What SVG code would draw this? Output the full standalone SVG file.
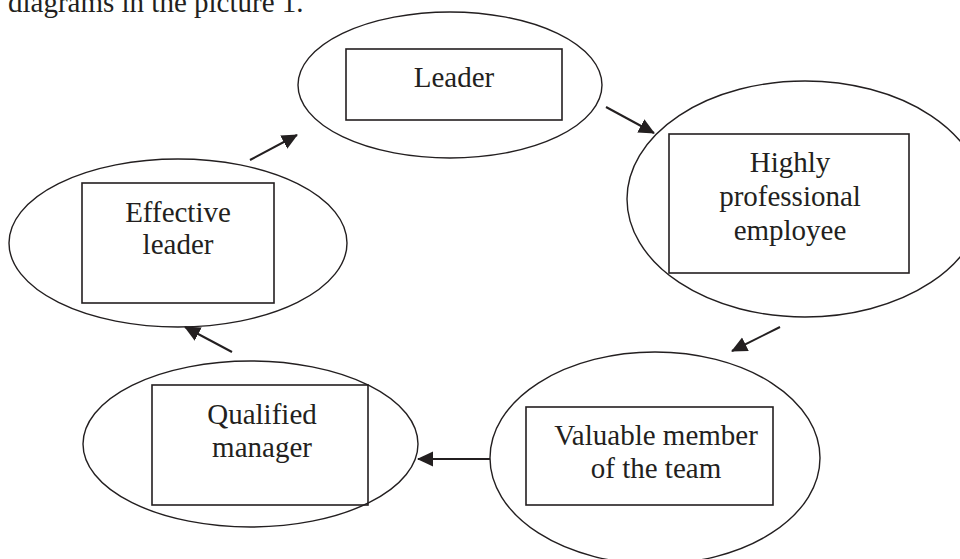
<svg xmlns="http://www.w3.org/2000/svg" width="960" height="559" viewBox="0 0 960 559">
<style>
.e{fill:none;stroke:#231f20;stroke-width:1.4}
.r{fill:none;stroke:#231f20;stroke-width:1.6}
.t{font-family:"Liberation Serif","Times New Roman",serif;font-size:29px;fill:#231f20;text-anchor:middle}
.c{stroke:#231f20;stroke-width:2;fill:none;marker-end:url(#ah)}
</style>
<defs>
<marker id="ah" markerUnits="userSpaceOnUse" markerWidth="16" markerHeight="16" viewBox="0 0 16 16" refX="15" refY="8" orient="auto">
<path d="M0,0.5 L16,8 L0,15.5 z" fill="#231f20"/>
</marker>
</defs>
<rect width="960" height="559" fill="#fff"/>
<text x="8" y="12" font-family="Liberation Serif,serif" font-size="29" fill="#231f20">diagrams in the picture 1.</text>
<g id="leader">
<ellipse class="e" cx="450" cy="85" rx="152" ry="73"/>
<rect class="r" x="346" y="49" width="216" height="71"/>
<text class="t" x="454" y="87">Leader</text>
</g>
<g id="highly-professional-employee">
<ellipse class="e" cx="805" cy="199" rx="178" ry="118"/>
<rect class="r" x="669" y="134" width="240" height="139"/>
<text class="t" x="790" y="172">Highly</text>
<text class="t" x="790" y="206">professional</text>
<text class="t" x="790" y="240">employee</text>
</g>
<g id="valuable-member">
<ellipse class="e" cx="655" cy="458" rx="165" ry="106"/>
<rect class="r" x="526" y="407" width="247" height="98"/>
<text class="t" x="656" y="445">Valuable member</text>
<text class="t" x="656" y="478">of the team</text>
</g>
<g id="qualified-manager">
<ellipse class="e" cx="250.5" cy="444" rx="167.5" ry="83"/>
<rect class="r" x="152" y="385" width="216" height="120"/>
<text class="t" x="262" y="424">Qualified</text>
<text class="t" x="262" y="457">manager</text>
</g>
<g id="effective-leader">
<ellipse class="e" cx="178" cy="243" rx="169" ry="84"/>
<rect class="r" x="82" y="183" width="192" height="120"/>
<text class="t" x="178" y="222">Effective</text>
<text class="t" x="178" y="254">leader</text>
</g>
<g id="connectors">
<line class="c" x1="250" y1="160" x2="297" y2="135"/>
<line class="c" x1="606" y1="107" x2="654" y2="133"/>
<line class="c" x1="780" y1="327" x2="732" y2="351"/>
<line class="c" x1="490" y1="459" x2="418" y2="459"/>
<line class="c" x1="232" y1="352" x2="185" y2="327"/>
</g>
</svg>
